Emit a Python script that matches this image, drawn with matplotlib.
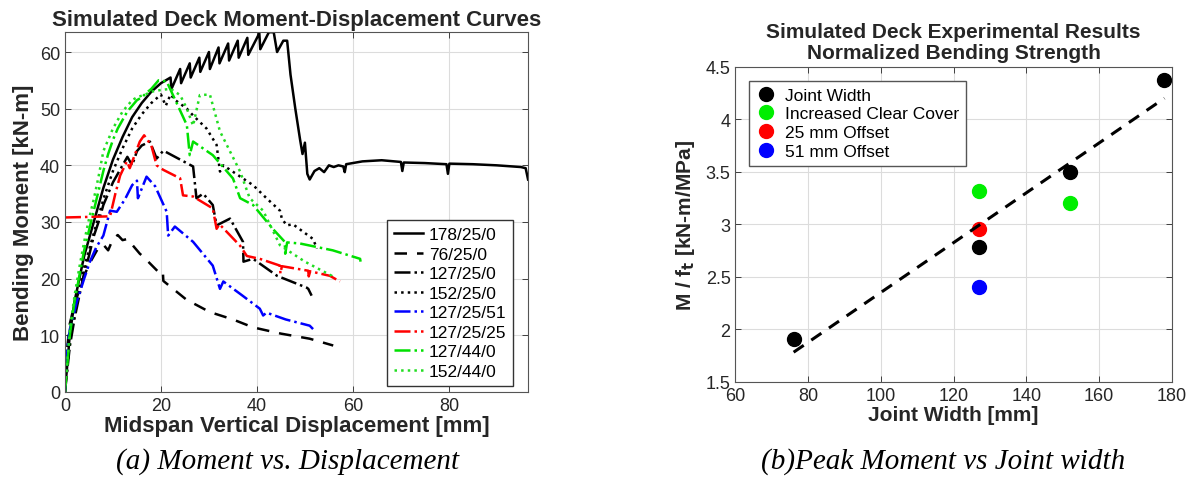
import numpy as np
import matplotlib.pyplot as plt

plt.rcParams['font.family'] = ['Liberation Sans', 'DejaVu Sans']

# ---- (a) moment-displacement curves ----
x_178_25_0 = [0, 1, 2, 4, 6, 8, 10, 12, 14, 16, 18, 20, 22, 22.2, 24, 24.2, 26, 26.2,
              28, 28.2, 30, 30.2, 32, 32.2, 34, 34.2, 36, 36.2, 38, 38.2, 40.5, 40.7,
              42.5, 43.5, 44.2, 45.5, 46.3, 47, 48, 49, 49.5, 50, 50.5, 51, 52, 53, 54,
              55, 56, 57, 58, 58.3, 58.6, 62, 66, 70, 70.3, 70.6, 75, 79.5, 79.8, 80.1,
              85, 90, 95, 96, 96.5]
y_178_25_0 = [0, 10, 16, 24, 30, 36, 41, 45, 48.5, 51, 53, 54.5, 55.5, 53.5, 57, 54.5, 58, 55.5,
              59, 56.5, 60, 57, 60.8, 58, 61.5, 58.5, 62, 59, 62.5, 59.5, 63.3, 60.5,
              63.5, 63.5, 60, 62, 62, 56, 50, 44.5, 42, 44, 38.5, 37.5, 39, 39.5, 38.8,
              40, 39.7, 40, 39.8, 38.8, 40.2, 40.7, 40.9, 40.6, 39, 40.5, 40.4, 40.2, 38.5, 40.3,
              40.2, 40, 39.7, 39.5, 37.5]

x_76_25_0 = [0, 0.5, 1, 2, 3, 4, 5, 6, 7, 8, 9, 10, 11, 12, 13, 15.6, 16.3, 19.8, 20.4, 20.5,
             25.3, 30.2, 35, 39.2, 45, 51, 55.9]
y_76_25_0 = [0, 8, 12, 15.5, 18, 20.5, 22.5, 24, 25.5, 26, 25, 27, 27.7, 26.8, 27, 24.4, 23.9, 20.9, 21.2, 19.6,
             16.3, 14.1, 12.8, 11.4, 10.3, 9.4, 8.2]

x_127_25_0 = [0, 1, 2, 3, 4, 5, 6, 7, 8, 9, 10, 11, 12, 13, 14, 15, 16, 17.7, 19.1, 20.5,
              26.7, 27.4, 28.8, 30.8, 31.6, 34.4, 37.1, 37.2, 39.2, 44.2, 50.4, 50.7, 51.4]
y_127_25_0 = [0, 8, 13, 17, 21, 24, 27.5, 30, 33, 35, 37, 38.5, 40, 41.5, 40, 42.5, 43.5, 44.2, 41.2, 42.6,
              39.8, 34.2, 35, 33, 29.4, 30.6, 26.5, 23, 23.5, 20.5, 18.4, 18.2, 17]

x_152_25_0 = [0, 1, 2, 3, 4, 6, 8, 10, 12, 14, 16, 18, 20, 21, 22, 23, 25.4, 26.7, 29.5,
              31.6, 32.3, 33, 39.2, 42, 44.8, 45.2, 46.2, 47.5, 51.7, 52.5]
y_152_25_0 = [0, 9, 14, 18, 22, 28, 34, 39, 43, 46.5, 49, 51, 52.5, 50.5, 52.5, 51.5, 50, 48.8, 46.5,
              43.6, 38.9, 40, 36.5, 34.2, 32, 30.6, 29.4, 29.6, 27, 25.3]

x_127_25_51 = [0, 0.4, 1, 2.5, 4, 5.2, 6.5, 8, 9.4, 10.8, 12.5, 14, 15, 15.2, 17, 18.8, 21.2, 21.5,
               22.9, 26.7, 30.8, 32.3, 33, 37, 40.6, 41.3, 42, 46, 51, 51.7]
y_127_25_51 = [0, 7, 11, 16, 20, 23, 25.5, 27.6, 32, 31.8, 34, 36.5, 37.3, 34.2, 38, 36.3, 31.8, 27.6,
               29.2, 26.5, 22.3, 18.2, 19.5, 17, 14.7, 13.5, 14, 12.8, 11.7, 11.1]

x_127_25_25 = [0, 5, 9.4, 10.5, 11.5, 12.9, 13.5, 15.6, 16.5, 18, 19.1, 20.5, 24, 24.6, 26.7,
               30.8, 31.6, 32.2, 36.5, 37.9, 40.6, 44.8, 44.9, 45.2, 50.7, 50.8, 51.1, 55.2, 57.3]
y_127_25_25 = [30.8, 30.9, 31, 35, 38.2, 40.7, 39.5, 44.2, 45.3, 43.5, 40, 39.2, 37.7, 34.7, 34.5,
               32.4, 28.8, 29.6, 25.8, 24, 23.5, 22.3, 20.9, 22.2, 21.4, 20.4, 21.3, 20.5, 19.5]

x_127_44_0 = [0, 1, 2, 3, 4, 5, 6, 7, 8, 9, 10, 11, 12, 13, 14, 15, 16, 17, 18, 19.5, 21.2,
              23, 25.4, 26, 26.7, 30.8, 35, 36.5, 39.2, 43.3, 45.8, 45.9, 46.3, 49, 55.8, 61.5, 61.6]
y_127_44_0 = [0, 10, 16, 20.5, 25, 28.5, 32, 35.5, 39, 42, 44.5, 46.5, 48, 49.5, 50.5, 51.5, 52, 52.8, 53.5, 55, 54.8,
              51.5, 47.1, 41.8, 44.2, 41.8, 37.7, 34.2, 33, 28.8, 26.5, 24.4, 26.4, 26.2, 25, 23.5, 23]

x_152_44_0 = [0, 1, 2, 3, 4, 5, 6, 7, 8, 9, 10, 11, 12, 13, 14, 15, 16, 17, 18, 20, 22, 24, 25.4,
              26.7, 28.1, 30.2, 32.3, 36.5, 38.5, 41.3, 44.8, 50, 55.6, 55.8]
y_152_44_0 = [0, 11, 17, 22, 26.5, 30.5, 34, 38, 42.5, 44.5, 46.5, 48, 49.5, 50.5, 51.5, 52, 52.3, 52.6, 53, 53.3, 53.5, 52.4, 50,
              47, 52.4, 52.5, 46, 38.9, 34.2, 32, 25.9, 23, 20.5, 19.8]

# ---- (b) peak moment vs joint width ----
jw_width = [76, 127, 152, 178]
jw_val = [1.91, 2.78, 3.50, 4.37]
cover_width = [127, 152]
cover_val = [3.32, 3.20]
off25_width = [127]
off25_val = [2.96]
off51_width = [127]
off51_val = [2.40]

curves = [
    ("178/25/0", x_178_25_0, y_178_25_0, "black", "-"),
    ("76/25/0", x_76_25_0, y_76_25_0, "black", (0, (5, 4))),
    ("127/25/0", x_127_25_0, y_127_25_0, "black", "-."),
    ("152/25/0", x_152_25_0, y_152_25_0, "black", ":"),
    ("127/25/51", x_127_25_51, y_127_25_51, "blue", "-."),
    ("127/25/25", x_127_25_25, y_127_25_25, "red", "-."),
    ("127/44/0", x_127_44_0, y_127_44_0, "#00e000", "-."),
    ("152/44/0", x_152_44_0, y_152_44_0, "#22dd22", ":"),
]

fig = plt.figure(figsize=(11.92, 4.81), dpi=100)
ax1 = fig.add_axes([0.0545, 0.183, 0.3885, 0.748])
ax2 = fig.add_axes([0.617, 0.204, 0.366, 0.655])

tick_col = "#262626"
for ax in (ax1, ax2):
    ax.grid(True, color="#dcdcdc", lw=0.8)
    ax.set_axisbelow(True)
    ax.tick_params(direction="in", top=True, right=True, labelsize=13,
                   colors=tick_col, length=4, width=0.6)
    for s in ax.spines.values():
        s.set_color("#555555")
        s.set_linewidth(0.8)

for label, xs, ys, col, ls in curves:
    ax1.plot(xs, ys, color=col, ls=ls, lw=1.8, label=label)

ax1.set_xlim(0, 96.5)
ax1.set_ylim(0, 63.5)
ax1.set_xticks([0, 20, 40, 60, 80])
ax1.set_yticks([0, 10, 20, 30, 40, 50, 60])
ax1.set_title("Simulated Deck Moment-Displacement Curves", fontsize=16,
              fontweight="bold", color=tick_col, pad=5)
ax1.set_xlabel("Midspan Vertical Displacement [mm]", fontsize=16,
               fontweight="bold", color=tick_col, labelpad=1)
ax1.set_ylabel("Bending Moment [kN-m]", fontsize=16, fontweight="bold",
               color=tick_col, labelpad=4)
leg1 = ax1.legend(loc="lower right", bbox_to_anchor=(0.968, 0.017), borderaxespad=0,
                  fontsize=12.5, handlelength=1.7, handletextpad=0.3,
                  labelspacing=0.25, fancybox=False, framealpha=1)
leg1.get_frame().set_edgecolor("#333333")

# (b)
ax2.plot(jw_width, jw_val, "o", color="black", ms=10, label="Joint Width")
ax2.plot(cover_width, cover_val, "o", color="#00ee00", ms=10, label="Increased Clear Cover")
ax2.plot(off25_width, off25_val, "o", color="red", ms=10, label="25 mm Offset")
ax2.plot(off51_width, off51_val, "o", color="blue", ms=10, label="51 mm Offset")
slope, icpt = np.polyfit(jw_width, jw_val, 1)
fit_x = np.array([min(jw_width), max(jw_width)])
ax2.plot(fit_x, slope * fit_x + icpt, color="black", lw=2.2, ls=(0, (4, 3)))

ax2.set_xlim(60, 180)
ax2.set_ylim(1.5, 4.5)
ax2.set_xticks([60, 80, 100, 120, 140, 160, 180])
ax2.set_yticks([1.5, 2, 2.5, 3, 3.5, 4, 4.5])
ax2.set_yticklabels(["1.5", "2", "2.5", "3", "3.5", "4", "4.5"])
ax2.set_title("Simulated Deck Experimental Results\nNormalized Bending Strength",
              fontsize=15, fontweight="bold", color=tick_col, pad=6, linespacing=1.15)
ax2.set_xlabel("Joint Width [mm]", fontsize=15, fontweight="bold", color=tick_col, labelpad=1)
ax2.set_ylabel(r"M / f$_{\mathbf{t}}$ [kN-m/MPa]", fontsize=15, fontweight="bold",
               color=tick_col, labelpad=6)
leg2 = ax2.legend(loc="upper left", bbox_to_anchor=(0.03, 0.956), borderaxespad=0,
                  fontsize=12.5, handlelength=1.2, handletextpad=0.5,
                  labelspacing=0.2, fancybox=False, framealpha=1)
leg2.get_frame().set_edgecolor("#555555")

cap_font = ["Liberation Serif", "DejaVu Serif"]
fig.text(0.241, 0.04, "(a) Moment vs. Displacement", fontsize=21, style="italic",
         family=cap_font, ha="center", va="center")
fig.text(0.791, 0.04, "(b)Peak Moment vs Joint width", fontsize=21, style="italic",
         family=cap_font, ha="center", va="center")

fig.savefig("out.png", dpi=100)
